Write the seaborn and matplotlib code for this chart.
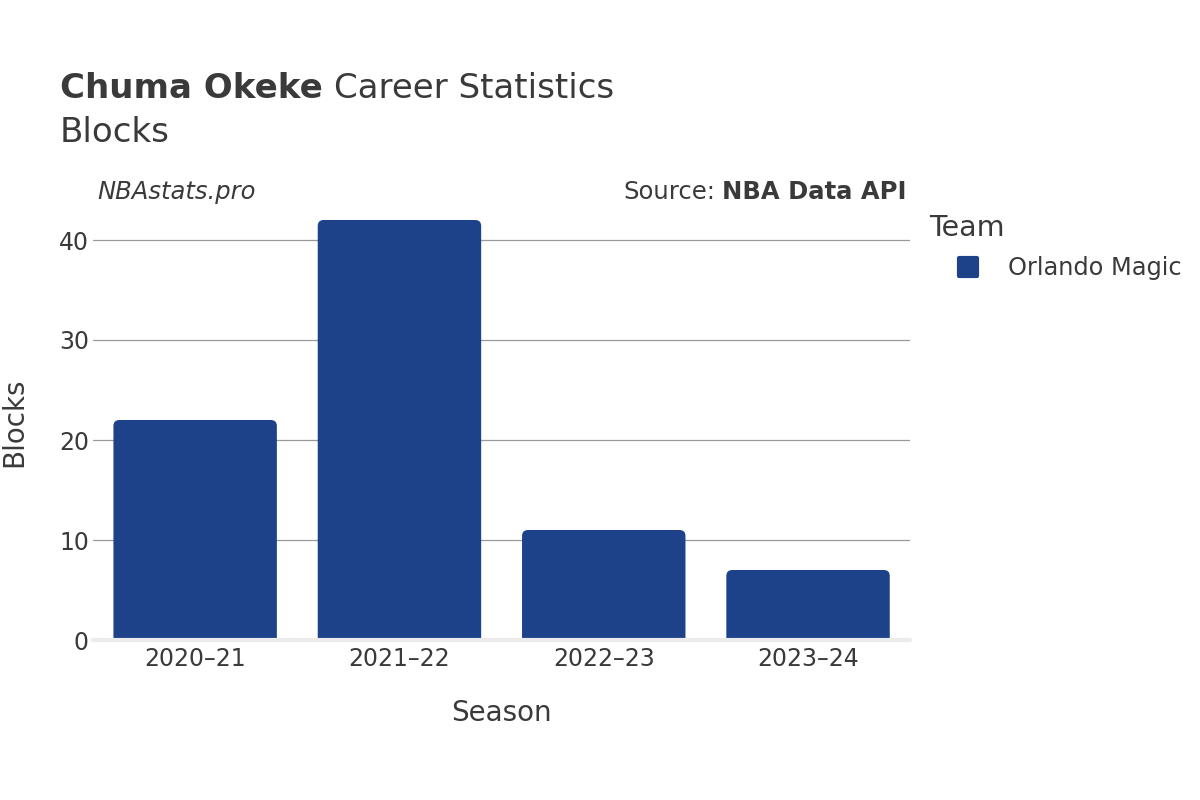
import matplotlib
matplotlib.use("Agg")
import matplotlib.pyplot as plt
import pandas as pd
import seaborn as sns
from matplotlib.patches import FancyBboxPatch
from matplotlib.lines import Line2D
from matplotlib.markers import MarkerStyle

seasons = ["2020\u201321", "2021\u201322", "2022\u201323", "2023\u201324"]
blocks = [22, 42, 11, 7]
team = "Orlando Magic"
bar_color = "#1D4289"
ink = "#3a3a3a"

df = pd.DataFrame({"Season": seasons, "Blocks": blocks, "Team": team})

sns.set_style("white")
plt.rcParams["font.family"] = ["DejaVu Sans"]

fig = plt.figure(figsize=(12, 8), dpi=100)
ax = fig.add_axes([0.0775, 0.2, 0.681, 0.545])

sns.barplot(data=df, x="Season", y="Blocks", color=bar_color, width=0.8, ax=ax, zorder=3)

# swap the square bars for rounded ones (bottom corners hidden below 0)
x_px = 0.681 * 1200 / 4
y_max = 43.6
y_px = 0.545 * 800 / y_max
r = 6.0
for p in list(ax.patches):
    x0, w, h = p.get_x(), p.get_width(), p.get_height()
    p.set_visible(False)
    rb = FancyBboxPatch((x0, -1), w, h + 1,
                        boxstyle=f"round,pad=0,rounding_size={r / x_px}",
                        mutation_aspect=(r / y_px) / (r / x_px),
                        facecolor=bar_color, edgecolor="none", zorder=3)
    ax.add_patch(rb)

ax.set_ylim(0, y_max)
ax.set_xlim(-0.5, 3.5)
ax.set_yticks([0, 10, 20, 30, 40])
ax.yaxis.grid(True, color="#999999", linewidth=0.9, zorder=0)
ax.set_axisbelow(True)
for s in ax.spines.values():
    s.set_visible(False)
ax.axhline(0, color="#ebebeb", linewidth=3, zorder=4, clip_on=False)
ax.tick_params(axis="y", length=0, labelsize=17, labelcolor=ink, pad=3)
ax.tick_params(axis="x", length=0, labelsize=17, labelcolor=ink, pad=5)
ax.set_xlabel("Season", fontsize=20, color=ink, labelpad=20)
ax.set_ylabel("Blocks", fontsize=20, color=ink, labelpad=22)

renderer = fig.canvas.get_renderer()
t1 = fig.text(60 / 1200, 1 - 88 / 800, "Chuma Okeke", fontsize=24.5, fontweight="bold",
              color=ink, va="center")
bb = t1.get_window_extent(renderer)
fig.text(bb.x1 / 1200 + 0.009, 1 - 88 / 800, "Career Statistics", fontsize=24.5,
         color=ink, va="center")
fig.text(60 / 1200, 1 - 132 / 800, "Blocks", fontsize=24.5, color=ink, va="center")

fig.text(97 / 1200, 1 - 192 / 800, "NBAstats.pro", fontsize=17.5, style="italic",
         color=ink, va="center")
t2 = fig.text(906 / 1200, 1 - 192 / 800, "NBA Data API", fontsize=17.5, fontweight="bold",
              color=ink, va="center", ha="right")
bb2 = t2.get_window_extent(renderer)
fig.text(bb2.x0 / 1200 - 0.005, 1 - 192 / 800, "Source:", fontsize=17.5, color=ink,
         va="center", ha="right")

handle = Line2D([0], [0], marker=MarkerStyle("s", joinstyle="round"), color="none",
                markerfacecolor=bar_color, markeredgecolor=bar_color,
                markersize=13, markeredgewidth=3)
leg = fig.legend([handle], [team], title="Team", loc="upper left",
                 bbox_to_anchor=(920 / 1200, 1 - 204 / 800), frameon=False,
                 fontsize=17.3, title_fontsize=20.5, handlelength=3.17,
                 handletextpad=0.1, labelspacing=0.6,
                 labelcolor=ink, borderaxespad=0)
leg.get_title().set_color(ink)
leg._legend_box.align = "left"

fig.savefig("out.png", dpi=100, facecolor="white")
